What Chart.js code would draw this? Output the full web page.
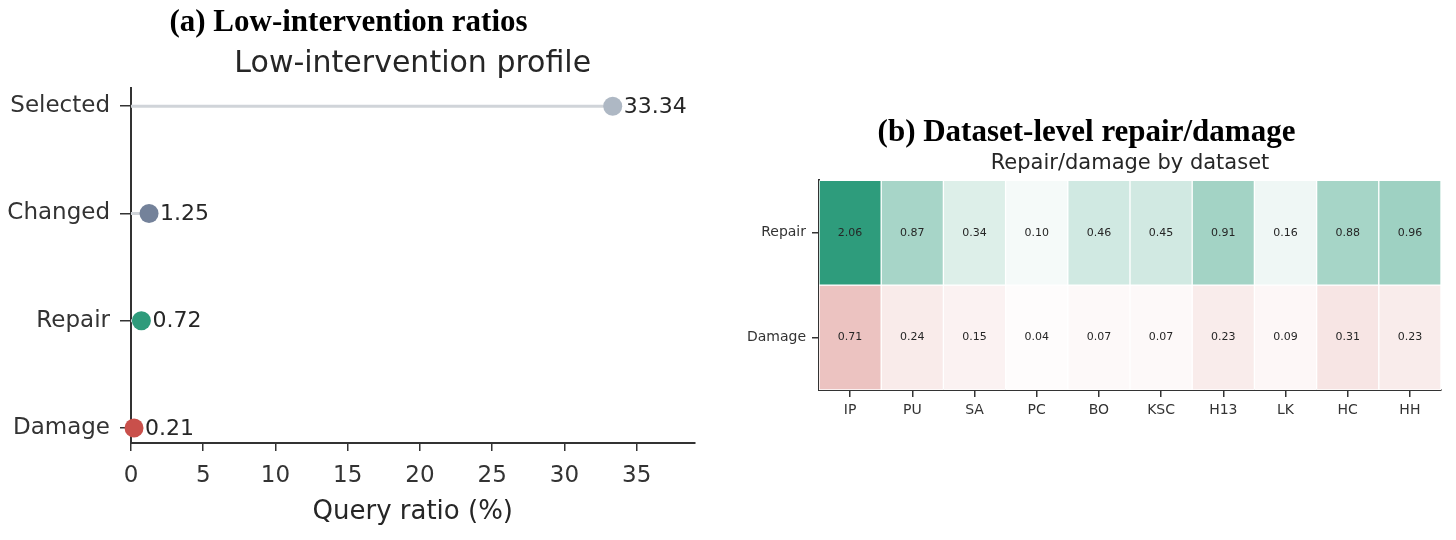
<!DOCTYPE html>
<html>
<head>
<meta charset="utf-8">
<script src="https://cdn.jsdelivr.net/npm/chart.js@4.4.0/dist/chart.umd.min.js"></script>
<style>
  html, body { margin: 0; padding: 0; background: #fff; }
  #wrap { position: relative; width: 1456px; height: 540px; overflow: hidden; }
  .panel { position: absolute; top: 0; height: 540px; }
</style>
</head>
<body>
<div id="wrap">
  <div class="panel" style="left:0;width:704px"><canvas id="lollipop"></canvas></div>
  <div class="panel" style="left:732px;width:724px"><canvas id="heatmap"></canvas></div>
</div>
<script>
// panel (a) data
const profileLabels = ['Selected', 'Changed', 'Repair', 'Damage'];
const profileValues = [33.34, 1.25, 0.72, 0.21];
const profileColors = ['#aeb8c4', '#74829a', '#2e9b7b', '#c9504b'];
const ratioTicks = [0, 5, 10, 15, 20, 25, 30, 35];

// panel (b) data
const datasetNames = ['IP', 'PU', 'SA', 'PC', 'BO', 'KSC', 'H13', 'LK', 'HC', 'HH'];
const repairValues = [2.06, 0.87, 0.34, 0.10, 0.46, 0.45, 0.91, 0.16, 0.88, 0.96];
const damageValues = [0.71, 0.24, 0.15, 0.04, 0.07, 0.07, 0.23, 0.09, 0.31, 0.23];
const heatRows = ['Repair', 'Damage'];

Chart.defaults.font.family = 'DejaVu Sans';
Chart.defaults.color = '#333';

const rowPos = i => profileLabels.length - 1 - i;

// value labels next to the dots
const dotLabels = {
  id: 'dotLabels',
  afterDatasetsDraw(chart) {
    const meta = chart.getDatasetMeta(chart.data.datasets.length - 1);
    const ctx = chart.ctx;
    ctx.save();
    ctx.font = '22px "DejaVu Sans"';
    ctx.fillStyle = '#262626';
    ctx.textBaseline = 'middle';
    meta.data.forEach((pt, i) => {
      ctx.fillText(profileValues[i].toFixed(2), pt.x + 11, pt.y + 1);
    });
    ctx.restore();
  }
};

const stems = profileValues.map((v, i) => ({
  type: 'line',
  data: [{x: 0, y: rowPos(i)}, {x: v, y: rowPos(i)}],
  borderColor: '#d0d4d9',
  borderWidth: 3,
  pointRadius: 0,
  order: 2
}));

new Chart(document.getElementById('lollipop'), {
  type: 'scatter',
  data: {
    datasets: [...stems, {
      data: profileValues.map((v, i) => ({x: v, y: rowPos(i)})),
      backgroundColor: profileColors,
      borderWidth: 0,
      pointRadius: 9.5,
      clip: false,
      order: 1
    }]
  },
  options: {
    responsive: true,
    maintainAspectRatio: false,
    animation: false,
    layout: { padding: { top: 0, right: 7, bottom: 0, left: 0 } },
    plugins: {
      legend: { display: false },
      tooltip: { enabled: false },
      title: {
        display: true,
        text: '(a) Low-intervention ratios',
        font: { family: 'Liberation Serif', size: 31, weight: 'bold' },
        color: '#000',
        padding: { top: 4, bottom: 5 }
      },
      subtitle: {
        display: true,
        text: 'Low-intervention profile',
        font: { size: 30 },
        color: '#262626',
        fullSize: false,
        padding: { top: 0, bottom: 6 }
      }
    },
    scales: {
      x: {
        type: 'linear',
        min: 0,
        max: 39,
        afterBuildTicks: s => { s.ticks = ratioTicks.map(v => ({value: v})); },
        afterFit: s => { s.height = 97; },
        border: { color: '#333', width: 2 },
        grid: { drawOnChartArea: false, tickLength: 8, color: '#333', lineWidth: 1.5 },
        ticks: { font: { size: 23 }, color: '#333', padding: 11 },
        title: {
          display: true,
          text: 'Query ratio (%)',
          font: { size: 26 },
          color: '#262626',
          padding: { top: 0, bottom: 12 }
        }
      },
      y: {
        type: 'linear',
        min: -0.14,
        max: 3.168,
        afterBuildTicks: s => { s.ticks = profileLabels.map((l, i) => ({value: rowPos(i)})); },
        afterFit: s => { s.width = 131; },
        border: { color: '#333', width: 2 },
        grid: { drawOnChartArea: false, tickLength: 11, color: '#333', lineWidth: 1.5 },
        ticks: {
          font: { size: 23 },
          color: '#333',
          padding: 10,
          callback: v => profileLabels[rowPos(v)]
        }
      }
    }
  },
  plugins: [dotLabels]
});

// heatmap colours: white -> base colour, scaled by the largest value
const vmax = Math.max(...repairValues, ...damageValues);
function shade(base, v) {
  const t = v / vmax;
  const mix = base.map(c => Math.round(255 - t * (255 - c)));
  return 'rgb(' + mix.join(',') + ')';
}

const cellLabels = {
  id: 'cellLabels',
  afterDatasetsDraw(chart) {
    const ctx = chart.ctx;
    ctx.save();
    ctx.font = '11px "DejaVu Sans"';
    ctx.fillStyle = '#262626';
    ctx.textAlign = 'center';
    ctx.textBaseline = 'middle';
    [repairValues, damageValues].forEach((vals, d) => {
      chart.getDatasetMeta(d).data.forEach((bar, i) => {
        const c = bar.getCenterPoint();
        ctx.fillText(vals[i].toFixed(2), c.x, c.y);
      });
    });
    ctx.restore();
  }
};

new Chart(document.getElementById('heatmap'), {
  type: 'bar',
  data: {
    labels: datasetNames,
    datasets: [
      {
        label: heatRows[0],
        data: repairValues.map(() => [1, 2]),
        backgroundColor: repairValues.map(v => shade([46, 156, 124], v)),
        borderColor: '#fff',
        borderWidth: 1,
        borderSkipped: false,
        grouped: false,
        barPercentage: 1,
        categoryPercentage: 1
      },
      {
        label: heatRows[1],
        data: damageValues.map(() => [0, 1]),
        backgroundColor: damageValues.map(v => shade([201, 82, 76], v)),
        borderColor: '#fff',
        borderWidth: 1,
        borderSkipped: false,
        grouped: false,
        barPercentage: 1,
        categoryPercentage: 1
      }
    ]
  },
  options: {
    responsive: true,
    maintainAspectRatio: false,
    animation: false,
    layout: { padding: { top: 114, right: 15, bottom: 0, left: 0 } },
    plugins: {
      legend: { display: false },
      tooltip: { enabled: false },
      title: {
        display: true,
        text: '(b) Dataset-level repair/damage',
        font: { family: 'Liberation Serif', size: 31, weight: 'bold' },
        color: '#000',
        padding: { top: 0, bottom: 0 }
      },
      subtitle: {
        display: true,
        text: 'Repair/damage by dataset',
        font: { size: 21 },
        color: '#262626',
        fullSize: false,
        padding: { top: 0, bottom: 4 }
      }
    },
    scales: {
      x: {
        afterFit: s => { s.height = 150; },
        border: { color: '#333', width: 2 },
        grid: { offset: false, drawOnChartArea: false, tickLength: 7, color: '#333', lineWidth: 1.5 },
        ticks: { font: { size: 14 }, color: '#333', padding: 5 }
      },
      y: {
        type: 'linear',
        min: 0,
        max: 2,
        afterBuildTicks: s => { s.ticks = heatRows.map((r, i) => ({value: heatRows.length - 1 - i + 0.5})); },
        afterFit: s => { s.width = 87; },
        border: { color: '#333', width: 2 },
        grid: { drawOnChartArea: false, tickLength: 7, color: '#333', lineWidth: 1.5 },
        ticks: {
          font: { size: 14 },
          color: '#333',
          padding: 6,
          callback: v => heatRows[heatRows.length - 1 - Math.floor(v)]
        }
      }
    }
  },
  plugins: [cellLabels]
});
</script>
</body>
</html>
